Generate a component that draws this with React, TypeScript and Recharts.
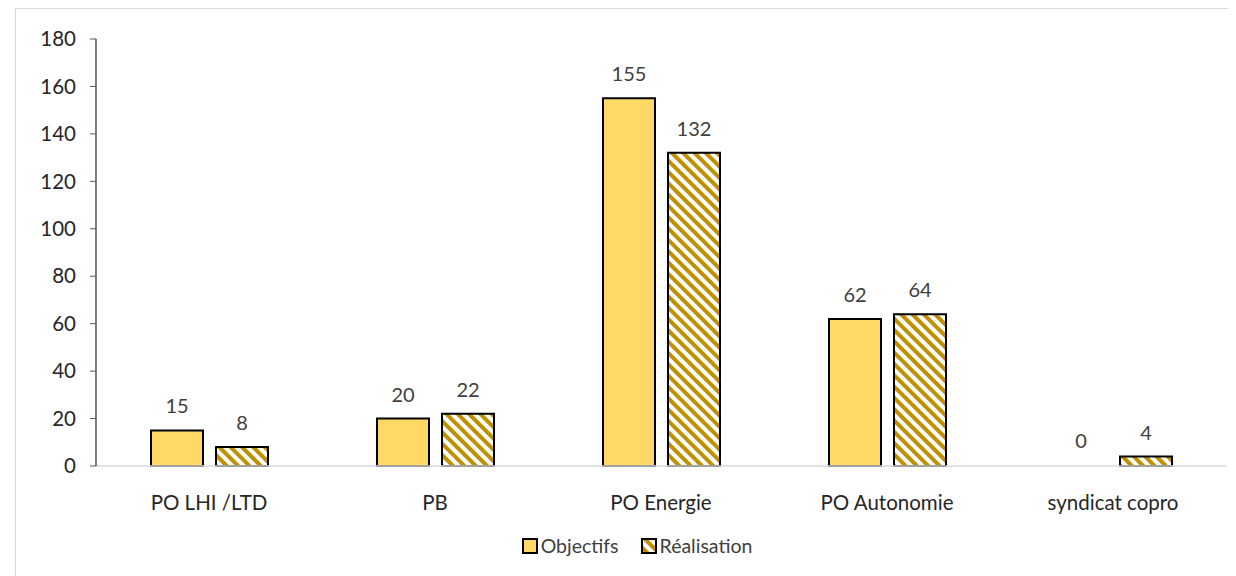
import React from 'react';
import { BarChart, Bar, XAxis, YAxis, Legend, LabelList, Rectangle } from 'recharts';

// categories and series
const categories = ['PO LHI /LTD', 'PB', 'PO Energie', 'PO Autonomie', 'syndicat copro'];
const objectifs = [15, 20, 155, 62, 0];
const realisation = [8, 22, 132, 64, 4];
const yTicks = [0, 20, 40, 60, 80, 100, 120, 140, 160, 180];
const boundaryTicks = [0, 1, 2, 3, 4, 5];

const data = categories.map((name, i) => ({
  name,
  idx: i + 0.5,
  objectifs: objectifs[i],
  realisation: realisation[i],
}));

const FONT = 'Lato, "Open Sans", sans-serif';
const GOLD = '#FFD966';
const HATCH = '#BF9000';

// zero values get a 1px placeholder so the "0" label still shows, but nothing is drawn
const BarShape = (props: any) => (props.value === 0 ? null : <Rectangle {...props} />);

// small legend with bordered squares, like the spreadsheet one
const LegendBox = () => (
  <div style={{ display: 'flex', justifyContent: 'center', gap: 22, paddingLeft: 32, fontFamily: FONT, fontSize: 19.5, color: '#404040' }}>
    <span style={{ display: 'flex', alignItems: 'center' }}>
      <svg width={16} height={16} style={{ marginRight: 3 }}>
        <rect x={1} y={1} width={14} height={14} fill={GOLD} stroke="#000" strokeWidth={2} />
      </svg>
      Objectifs
    </span>
    <span style={{ display: 'flex', alignItems: 'center' }}>
      <svg width={16} height={16} style={{ marginRight: 3 }}>
        <rect x={1} y={1} width={14} height={14} fill="url(#hatch)" stroke="#000" strokeWidth={2} />
      </svg>
      Réalisation
    </span>
  </div>
);

export default function App() {
  return (
    <div style={{ marginLeft: 7, width: 1221, height: 568, borderLeft: '1px solid #d9d9d9', borderTop: '1px solid #d9d9d9', background: '#fff' }}>
      <BarChart
        width={1220}
        height={567}
        data={data}
        margin={{ top: 30, right: 10, left: 0, bottom: 19 }}
        barSize={52}
        barGap={13}
      >
        <defs>
          <pattern id="hatch" patternUnits="userSpaceOnUse" width={8} height={8} patternTransform="rotate(-45)">
            <rect x={0} y={0} width={8} height={8} fill="#fff" />
            <rect x={0} y={0} width={4} height={8} fill={HATCH} />
          </pattern>
        </defs>
        <XAxis
          dataKey="name"
          axisLine={{ stroke: '#d9d9d9', strokeWidth: 1.5 }}
          tickLine={false}
          tickSize={0}
          tickMargin={29}
          height={68}
          tick={{ fontFamily: FONT, fontSize: 20.5, fill: '#262626' }}
        />
        {/* boundary tick marks between categories */}
        <XAxis
          xAxisId="b"
          dataKey="idx"
          type="number"
          domain={[0, 5]}
          ticks={boundaryTicks}
          axisLine={false}
          tickLine={{ stroke: '#d9d9d9', strokeWidth: 1.5 }}
          tickSize={6}
          tick={false}
          height={0}
        />
        <YAxis
          domain={[0, 180]}
          ticks={yTicks}
          interval={0}
          width={80}
          axisLine={{ stroke: '#262626', strokeWidth: 1.2 }}
          tickLine={{ stroke: '#595959' }}
          tickSize={6}
          tickMargin={14}
          tick={{ fontFamily: FONT, fontSize: 20.5, fill: '#262626' }}
        />
        <Legend verticalAlign="bottom" content={<LegendBox />} />
        <Bar dataKey="objectifs" name="Objectifs" fill={GOLD} stroke="#000" strokeWidth={2} minPointSize={1} shape={BarShape} isAnimationActive={false}>
          <LabelList dataKey="objectifs" position="top" offset={17} fill="#404040" fontFamily={FONT} fontSize={20} />
        </Bar>
        <Bar dataKey="realisation" name="Réalisation" fill="url(#hatch)" stroke="#000" strokeWidth={2} minPointSize={1} shape={BarShape} isAnimationActive={false}>
          <LabelList dataKey="realisation" position="top" offset={17} fill="#404040" fontFamily={FONT} fontSize={20} />
        </Bar>
      </BarChart>
    </div>
  );
}
